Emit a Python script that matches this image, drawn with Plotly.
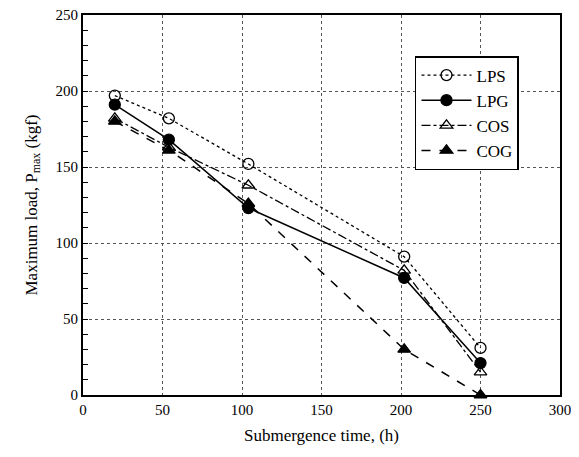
import plotly.graph_objects as go

time_h = [20, 54, 104, 202, 250]
lps = [197, 182, 152, 91, 31]
lpg = [191, 168, 123, 77, 21]
cos_ = [182, 163, 138, 82, 15]
cog = [180, 161, 126, 30, 0]

series = [
    ("LPS", lps, "circle-open", "dot", 1.3),
    ("LPG", lpg, "circle", "solid", 1.5),
    ("COS", cos_, "triangle-up-open", "dashdot", 1.3),
    ("COG", cog, "triangle-up", "dash", 1.5),
]

fig = go.Figure()
for name, vals, sym, dash, w in series:
    fig.add_trace(go.Scatter(
        x=time_h, y=vals, name=name, mode="lines+markers",
        line=dict(color="black", width=w, dash=dash),
        marker=dict(symbol=sym, size=11, color="black", line=dict(color="black", width=1.3)),
        cliponaxis=False,
    ))

font = dict(family="Liberation Serif", color="black", size=15)
fig.update_layout(
    width=571, height=449,
    margin=dict(l=75, r=19, t=7, b=62),
    paper_bgcolor="white", plot_bgcolor="white",
    font=font,
    showlegend=True,
    legend=dict(x=0.696, y=0.892, xanchor="left", yanchor="top",
                bgcolor="white", bordercolor="black", borderwidth=1.5,
                font=dict(family="Liberation Serif", size=17), itemwidth=50),
    xaxis=dict(range=[0, 300], dtick=50, showgrid=True, gridcolor="#555", griddash="dot", gridwidth=1,
               showline=True, linecolor="black", linewidth=2, mirror=True, automargin=False,
               ticks="", zeroline=False, tickfont=dict(size=15), ticklabeloverflow="allow",
               title=dict(text="Submergence time, (h)", standoff=12, font=dict(size=17))),
    yaxis=dict(range=[0, 250], dtick=50, showgrid=True, gridcolor="#555", griddash="dot", gridwidth=1,
               showline=True, linecolor="black", linewidth=2, mirror=True, automargin=False,
               ticks="inside", ticklen=5, tickwidth=1.2, tickcolor="black", zeroline=False,
               tickfont=dict(size=15), ticklabeloverflow="allow",
               minor=dict(dtick=10, ticks="inside", ticklen=5, tickcolor="black", showgrid=False),
               title=dict(text="Maximum load, P<sub>max</sub> (kgf)", standoff=14, font=dict(size=17))),
)
fig.add_shape(type="rect", xref="paper", yref="paper", x0=0.705, x1=0.913, y0=0.598, y1=0.882,
              fillcolor="#333", line=dict(width=0), layer="below")
fig.write_html("out.html")
